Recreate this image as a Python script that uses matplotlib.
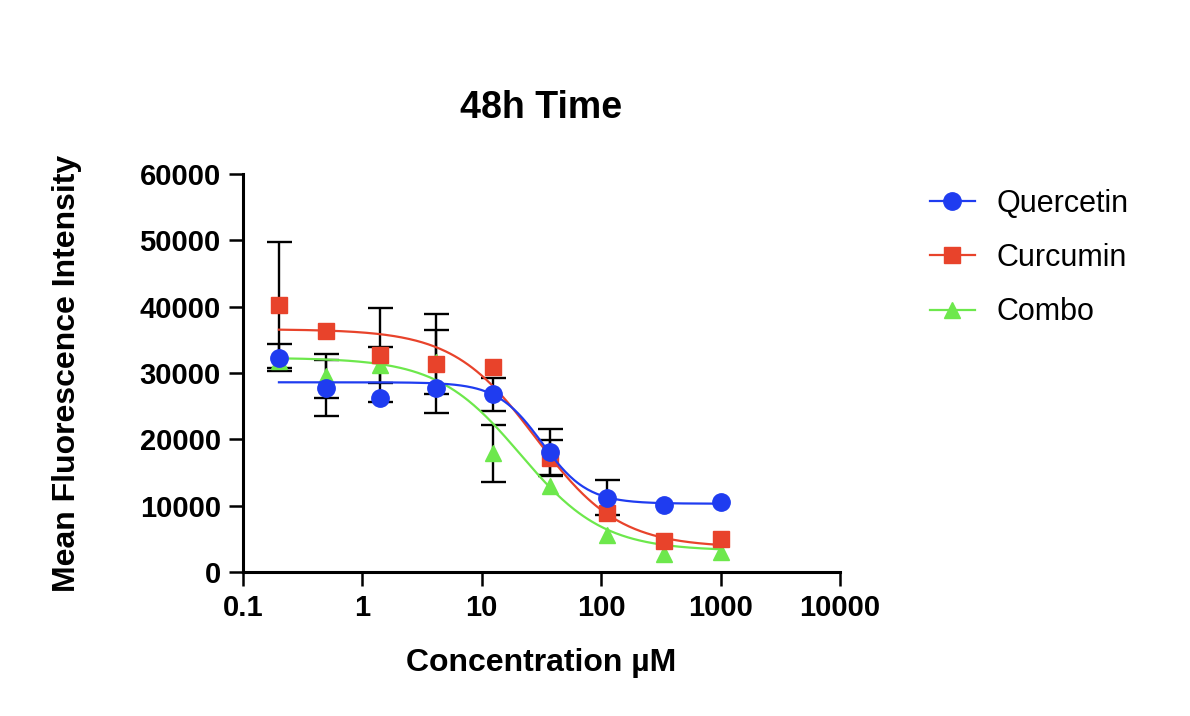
import numpy as np
import matplotlib
matplotlib.use("Agg")
import matplotlib.pyplot as plt
from matplotlib.lines import Line2D

plt.rcParams['font.family'] = ['Liberation Sans', 'DejaVu Sans']

# concentrations (uM)
conc = [0.2, 0.5, 1.4, 4.1, 12.3, 37, 111, 333, 1000]

# mean fluorescence intensity
quercetin = [32300, 27700, 26200, 27700, 26800, 18100, 11200, 10100, 10600]
curcumin = [40300, 36400, 32700, 31400, 30900, 17200, 8900, 4600, 5000]
combo = [31800, 29600, 31200, 31700, 17900, 12900, 5600, 2700, 3000]

# SD error bars (0 = hidden inside the marker)
quercetin_sd = [2000, 4200, 0, 0, 2500, 3500, 2600, 0, 0]
curcumin_sd = [9500, 0, 7100, 7500, 0, 2700, 0, 0, 0]
combo_sd = [0, 3300, 2700, 4800, 4300, 0, 0, 0, 0]

# fitted 4PL curve parameters: top, bottom, IC50, hill
quercetin_fit = [28600, 10300, 32, 2.3]
curcumin_fit = [36600, 3700, 28.5, 1.25]
combo_fit = [32300, 3200, 21, 1.25]

series = [
    ("Quercetin", quercetin, quercetin_sd, quercetin_fit, "#1f3cf0", "o", 12.5),
    ("Curcumin", curcumin, curcumin_sd, curcumin_fit, "#e8432b", "s", 11.5),
    ("Combo", combo, combo_sd, combo_fit, "#6de84c", "^", 11.5),
]


def logistic(x, p):
    top, bottom, ic50, hill = p
    return bottom + (top - bottom) / (1 + (x / ic50) ** hill)


fig = plt.figure(figsize=(11.9, 7.16), dpi=100)
ax = fig.add_axes([243 / 1190, 1 - 572 / 716, 597 / 1190, 398 / 716])

xs = np.logspace(np.log10(conc[0]), np.log10(conc[-1]), 300)
handles = []
n = len(series)
for i, (name, y, sd, fit, col, mk, ms) in enumerate(series):
    z = 10 - i * 2  # quercetin drawn on top
    keep = [k for k in range(len(conc)) if sd[k] > 0]
    ax.errorbar([conc[k] for k in keep], [y[k] for k in keep],
                yerr=[sd[k] for k in keep], fmt='none', ecolor='black',
                elinewidth=1.7, capsize=9, capthick=1.7, zorder=1)
    ax.plot(xs, logistic(xs, fit), color=col, lw=1.6, zorder=z)
    ax.plot(conc, y, linestyle='none', marker=mk, color=col, ms=ms, zorder=z + 1)
    handles.append(Line2D([], [], color=col, lw=1.6, marker=mk, ms=ms, label=name))

ax.set_xscale('log')
ax.set_xlim(0.1, 10000)
ax.set_ylim(0, 60000)
ax.set_xticks([0.1, 1, 10, 100, 1000, 10000])
ax.set_xticklabels(['0.1', '1', '10', '100', '1000', '10000'])
ax.xaxis.set_minor_locator(matplotlib.ticker.NullLocator())
ax.set_yticks(range(0, 60001, 10000))
ax.set_yticklabels([str(v) for v in range(0, 60001, 10000)])

for s in ['top', 'right']:
    ax.spines[s].set_visible(False)
for s in ['left', 'bottom']:
    ax.spines[s].set_linewidth(2.2)
ax.tick_params(direction='out', length=10, width=1.8, pad=6, labelsize=21)
for lab in ax.get_xticklabels() + ax.get_yticklabels():
    lab.set_fontweight('bold')

ax.set_xlabel('Concentration µM', fontsize=23, fontweight='bold')
ax.set_ylabel('Mean Fluorescence Intensity', fontsize=23, fontweight='bold')
ax.xaxis.set_label_coords(0.5, -0.19)
ax.yaxis.set_label_coords(-0.27, 0.5)

fig.text(541 / 1190, 1 - 108 / 716, '48h Time', fontsize=27, fontweight='bold',
         ha='center', va='center')

fig.legend(handles=handles, loc='center left', bbox_to_anchor=(930 / 1190, 1 - 258 / 716),
           frameon=False, fontsize=22, handlelength=1.47, handletextpad=0.7,
           labelspacing=0.8, borderpad=0, borderaxespad=0)

fig.savefig('out.png', dpi=100)
